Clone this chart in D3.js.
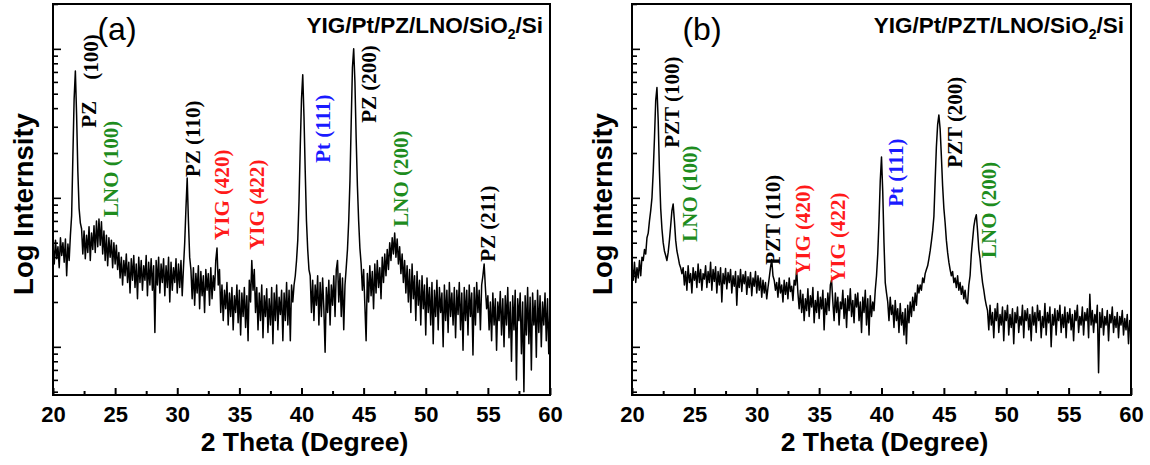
<!DOCTYPE html>
<html><head><meta charset="utf-8">
<script src="https://cdn.jsdelivr.net/npm/d3@7"></script>
<style>body{margin:0;background:#fff}svg{display:block}</style>
</head><body>
<svg id="chart" width="1150" height="465"></svg>
<script>
// ---------------- DATA ----------------
const thetaStart = 20, thetaStep = 0.1;   // 2θ sampling grid (deg)

// Panel (a): YIG/Pt/PZ/LNO/SiO2/Si  — intensity (counts), one value per 0.1°, 20.0 … 60.0
const intensityA = [
 480,360,520,390,470,340,540,410,500,370,
 530,300,490,380,560,760,1900,4600,7100,3600,
 1500,850,680,620,420,600,390,560,430,640,
 380,580,450,650,430,700,470,720,480,690,
 420,600,380,560,350,540,400,520,340,500,
 360,480,330,430,290,400,260,380,300,420,
 270,370,230,390,280,410,250,360,210,400,
 270,380,240,350,280,410,220,370,260,390,
 240,350,125,380,260,400,230,360,270,390,
 220,350,250,400,200,370,240,340,270,390,
 230,360,250,380,220,340,500,850,1360,700,
 400,330,210,340,190,310,230,350,180,320,
 220,300,170,330,240,310,190,340,210,300,
 240,380,460,260,330,170,260,150,240,180,
 270,140,230,160,250,130,220,170,260,145,
 240,120,230,160,250,135,220,110,280,200,
 380,240,330,170,250,130,230,150,260,115,
 220,160,245,125,210,140,250,105,230,150,
 260,130,215,165,240,110,230,150,270,140,
 240,110,260,200,260,300,380,520,950,2200,
 4600,6700,3500,1500,700,450,330,300,170,280,
 150,260,190,300,140,270,160,290,180,92,
 250,170,280,140,260,190,300,160,330,380,
 200,310,160,290,130,260,340,450,700,1300,
 3200,7500,10000,6000,2500,1200,700,460,360,240,
 330,190,110,310,200,350,220,320,180,360,
 230,380,250,340,210,400,270,420,300,450,
 330,500,380,540,420,580,400,530,360,470,
 310,420,270,380,230,350,200,330,170,360,
 210,300,150,320,190,280,140,300,180,260,
 120,290,170,250,140,270,105,240,160,280,
 130,250,170,230,100,260,150,240,125,270,
 160,230,140,250,115,240,165,270,130,230,
 95,250,150,240,120,260,160,230,88,250,
 140,270,170,240,130,260,300,360,250,180,
 220,130,200,110,230,140,210,95,200,150,
 235,120,210,100,220,140,250,115,200,80,
 220,130,240,60,210,150,230,90,200,50,
 220,120,250,105,215,70,230,140,205,85,
 240,125,220,100,200,140,230,110,210,90,
 190
];

// Panel (b): YIG/Pt/PZT/LNO/SiO2/Si
const intensityB = [
 350,280,370,270,340,290,380,300,400,380,
 450,420,540,580,700,820,1000,1500,2500,4500,
 5500,3300,1500,850,620,500,440,410,380,430,
 520,650,820,910,700,520,440,400,360,340,
 310,340,260,320,240,350,270,310,230,340,
 280,320,250,360,270,330,240,310,285,350,
 250,320,270,370,240,330,275,345,230,320,
 260,340,200,310,265,335,245,315,270,330,
 230,300,255,320,190,300,250,330,235,305,
 265,320,225,295,250,315,220,290,255,320,
 230,300,240,290,215,280,230,270,210,250,
 290,340,385,300,280,240,270,215,290,230,
 260,200,280,225,270,210,290,235,255,205,
 280,260,330,230,180,240,170,225,150,210,
 175,245,160,220,185,250,145,205,170,235,
 155,215,180,240,130,210,165,230,175,260,
 280,200,150,230,170,215,140,200,180,240,
 155,210,135,220,175,245,160,205,145,225,
 185,230,150,200,125,215,170,240,140,210,
 120,220,160,200,175,240,300,420,700,1300,
 1880,1100,500,270,230,200,150,215,165,190,
 135,205,150,180,125,195,140,170,120,180,
 105,190,145,200,160,215,175,230,190,260,
 230,260,240,290,270,310,330,350,390,440,
 510,600,750,1300,2200,3100,3600,2900,1900,1200,
 850,680,520,430,370,330,300,320,270,290,
 250,300,240,270,225,255,210,240,200,195,
 260,300,420,520,640,720,770,600,450,390,
 320,270,240,210,190,175,130,190,140,170,
 115,180,150,195,125,165,140,185,110,175,
 150,190,120,165,135,180,105,170,145,185,
 125,160,140,190,115,175,150,180,130,165,
 110,185,140,170,125,190,150,175,115,160,
 135,195,120,170,145,185,100,165,140,180,
 120,175,150,190,125,165,135,185,115,170,
 145,180,130,165,110,175,150,190,125,160,
 140,185,120,170,150,180,115,225,140,175,
 125,165,145,190,67,170,135,180,120,160,
 140,175,110,165,145,185,125,160,135,170,
 115,160,140,175,120,155,130,165,105,150,
 125
];

const xMajorTicks = [20, 25, 30, 35, 40, 45, 50, 55, 60];
const xMinorTicks = [22.5, 27.5, 32.5, 37.5, 42.5, 47.5, 52.5, 57.5];
const intensityDomain = [47.5, 20000];
const thetaDomain = [20, 60];

const titleA = ["YIG/Pt/PZ/LNO/SiO", "2", "/Si"];
const titleB = ["YIG/Pt/PZT/LNO/SiO", "2", "/Si"];
const panelLetters = ["(a)", "(b)"];
const xAxisTitle = "2 Theta (Degree)";
const yAxisTitle = "Log Internsity";

// Peak labels: anchored at (2θ, intensity) = bottom of the rotated label
const peakLabelsA = [
  {text: "PZ",        phase: "PZ",  theta: 22.9, intensity: 2950},
  {text: "(100)",     phase: "PZ",  theta: 23.0, intensity: 6200},
  {text: "LNO (100)", phase: "LNO", theta: 24.6, intensity: 745},
  {text: "PZ (110)",  phase: "PZ",  theta: 31.2, intensity: 1380},
  {text: "YIG (420)", phase: "YIG", theta: 33.6, intensity: 522},
  {text: "YIG (422)", phase: "YIG", theta: 36.4, intensity: 448},
  {text: "Pt (111)",  phase: "Pt",  theta: 41.7, intensity: 1720},
  {text: "PZ (200)",  phase: "PZ",  theta: 45.4, intensity: 3190},
  {text: "LNO (200)", phase: "LNO", theta: 48.0, intensity: 640},
  {text: "PZ (211)",  phase: "PZ",  theta: 55.0, intensity: 372}
];
const peakLabelsB = [
  {text: "PZT (100)", phase: "PZ",  theta: 23.2,  intensity: 2170},
  {text: "LNO (100)", phase: "LNO", theta: 24.65, intensity: 507},
  {text: "PZT (110)", phase: "PZ",  theta: 31.3,  intensity: 355},
  {text: "YIG (420)", phase: "YIG", theta: 33.65, intensity: 304},
  {text: "YIG (422)", phase: "YIG", theta: 36.5,  intensity: 269},
  {text: "Pt (111)",  phase: "Pt",  theta: 41.1,  intensity: 870},
  {text: "PZT (200)", phase: "PZ",  theta: 45.9,  intensity: 1590},
  {text: "LNO (200)", phase: "LNO", theta: 48.6,  intensity: 395}
];

// ---------------- STYLE / LAYOUT ----------------
const phaseColor = {PZ: "#000000", LNO: "#1e8c1e", YIG: "#ff1a1a", Pt: "#1a1aff"};
const SANS = "'Liberation Sans', Arial, sans-serif";
const SERIF = "'Liberation Serif', 'Times New Roman', serif";
const panels = [
  {left: 53,  right: 550,  top: 4, bottom: 395, data: intensityA, labels: peakLabelsA, title: titleA, letter: panelLetters[0], letterX: 117, yTitleX: 33},
  {left: 632, right: 1131, top: 4, bottom: 395, data: intensityB, labels: peakLabelsB, title: titleB, letter: panelLetters[1], letterX: 702, yTitleX: 612}
];

const svg = d3.select("#chart");

panels.forEach((p, pi) => {
  const x = d3.scaleLinear().domain(thetaDomain).range([p.left, p.right]);
  const y = d3.scaleLog().domain(intensityDomain).range([p.bottom, p.top]);
  const g = svg.append("g");

  const clipId = "clip" + pi;
  svg.append("clipPath").attr("id", clipId).append("rect")
    .attr("x", p.left).attr("y", p.top).attr("width", p.right - p.left).attr("height", p.bottom - p.top);

  // data trace
  const pts = p.data.map((v, i) => [thetaStart + i * thetaStep, v]);
  g.append("path").datum(pts)
    .attr("clip-path", `url(#${clipId})`)
    .attr("fill", "none").attr("stroke", "#000").attr("stroke-width", 1.5)
    .attr("stroke-linejoin", "round")
    .attr("d", d3.line().x(d => x(d[0])).y(d => y(d[1])));

  // x axis (ticks inside)
  const xAxis = g.append("g").attr("transform", `translate(0,${p.bottom})`)
    .call(d3.axisBottom(x).tickValues(xMajorTicks).tickSize(-7).tickPadding(12).tickFormat(d3.format("d")));
  xAxis.select(".domain").remove();
  xAxis.selectAll(".tick line").attr("stroke-width", 2);
  xAxis.selectAll(".tick text").attr("font-family", SANS).attr("font-weight", "bold")
    .attr("font-size", 22).attr("fill", "#000").attr("dy", "0.68em");
  const xMinor = g.append("g").attr("transform", `translate(0,${p.bottom})`)
    .call(d3.axisBottom(x).tickValues(xMinorTicks).tickSize(-4).tickFormat(""));
  xMinor.select(".domain").remove();
  xMinor.selectAll(".tick line").attr("stroke-width", 2);

  // y axis (log, ticks inside, no labels)
  const yTicks = y.ticks().filter(t => t >= intensityDomain[0] && t <= intensityDomain[1]);
  const isMajor = t => Math.abs(Math.log10(t) - Math.round(Math.log10(t))) < 1e-9;
  const yAxis = g.append("g").attr("transform", `translate(${p.left},0)`)
    .call(d3.axisLeft(y).tickValues(yTicks).tickFormat("").tickSize(0));
  yAxis.select(".domain").remove();
  yAxis.selectAll(".tick line").attr("x2", d => isMajor(d) ? 8 : 5).attr("stroke-width", 1.6);

  // frame
  g.append("rect").attr("x", p.left).attr("y", p.top)
    .attr("width", p.right - p.left).attr("height", p.bottom - p.top)
    .attr("fill", "none").attr("stroke", "#000").attr("stroke-width", 2);

  // peak labels
  g.selectAll("text.peak").data(p.labels).enter().append("text")
    .attr("class", "peak")
    .attr("transform", d => `translate(${x(d.theta)},${y(d.intensity)}) rotate(-90)`)
    .attr("dy", "0.35em")
    .attr("font-family", SERIF).attr("font-weight", "bold").attr("font-size", 21)
    .attr("fill", d => phaseColor[d.phase])
    .text(d => d.text);

  // sample title
  const t = g.append("text").attr("x", p.right - 7).attr("y", 33)
    .attr("text-anchor", "end").attr("font-family", SANS).attr("font-weight", "bold")
    .attr("font-size", 22.5).attr("fill", "#000");
  t.append("tspan").text(p.title[0]);
  t.append("tspan").attr("font-size", 14).attr("dy", 6).text(p.title[1]);
  t.append("tspan").attr("dy", -6).text(p.title[2]);

  // panel letter
  g.append("text").attr("x", p.letterX).attr("y", 40).attr("text-anchor", "middle")
    .attr("font-family", SANS).attr("font-size", 32).attr("fill", "#000").text(p.letter);

  // axis titles
  g.append("text").attr("x", (p.left + p.right) / 2 + 3).attr("y", 451)
    .attr("text-anchor", "middle").attr("font-family", SANS).attr("font-weight", "bold")
    .attr("font-size", 26.5).attr("fill", "#000").text(xAxisTitle);
  g.append("text").attr("transform", `translate(${p.yTitleX},204) rotate(-90)`)
    .attr("text-anchor", "middle").attr("font-family", SANS).attr("font-weight", "bold")
    .attr("font-size", 27.5).attr("fill", "#000").text(yAxisTitle);
});
</script>
</body></html>
